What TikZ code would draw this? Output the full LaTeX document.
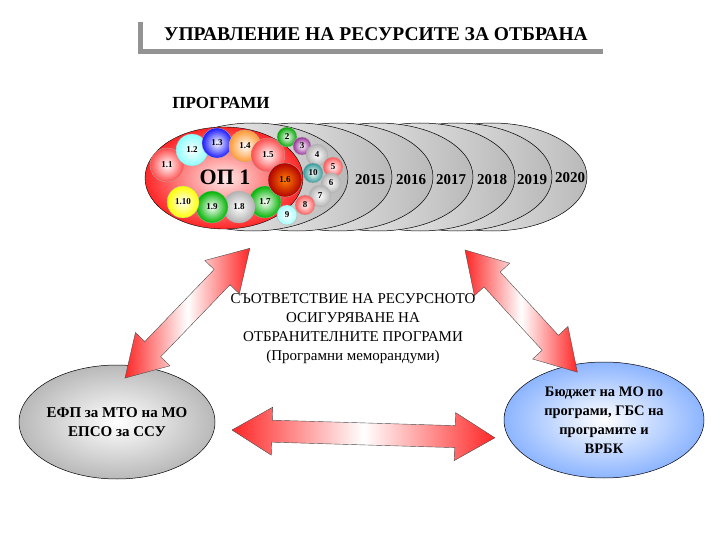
\documentclass[tikz,border=0pt]{standalone}
\usepackage{fontspec}
\setmainfont{Liberation Serif}
\begin{document}
\begin{tikzpicture}[x=1pt,y=1pt,
  ball/.style={circle,inner sep=0pt,draw=gray!60,line width=0.3pt,font=\fontsize{9}{10}\selectfont\bfseries},
  yr/.style={font=\fontsize{15}{17}\selectfont\bfseries},
  gell/.style={draw=black,line width=0.5pt,left color=white,right color=gray!55},
  fat/.style={draw=gray!60!black,line width=0.4pt,left color=red!85,right color=red!85,middle color=white}]
\useasboundingbox (0,0) rectangle (720,-540);
% title
\fill[gray!85] (138,-22) rectangle (143,-54);
\fill[gray!85] (138,-49) rectangle (603,-54);
\node[font=\fontsize{19.5}{22}\selectfont\bfseries] (title) at (376,-34) {УПРАВЛЕНИЕ НА РЕСУРСИТЕ ЗА ОТБРАНА};
\node[font=\fontsize{17}{19}\selectfont\bfseries] (prog) at (221,-103) {ПРОГРАМИ};
% gray ellipses, back to front
\foreach \r in {587,552,515,473,433,392,348}{
  \shade[gell] (\r-95,-177) ellipse [x radius=95,y radius=54];
}
\node[yr] (y15) at (370,-180) {2015};
\node[yr] (y16) at (411,-180) {2016};
\node[yr] (y17) at (451,-180) {2017};
\node[yr] (y18) at (492,-180) {2018};
\node[yr] (y19) at (532,-180) {2019};
\node[yr] (y20) at (570,-178) {2020};
% red ellipse
\shade[draw=black,line width=0.4pt,inner color=red!8,outer color=red!85] (224,-178) ellipse [x radius=79,y radius=51];
\node[font=\fontsize{22}{24}\selectfont\bfseries] (op) at (225,-177) {ОП 1};
% balls
\foreach \n/\x/\y/\r/\c in {1.1/167/165/17/red!70,1.2/192/150/16/cyan!45,1.3/217/143/15/blue!90,1.4/245/146/16/orange!80,1.5/268/155/17/red!70,1.7/265/202/16/green!70!black,1.8/239/207/16/gray!60,1.9/212/207/16/green!70!black,1.10/183/202/16/yellow,2/287/137/10/green!65!black,3/302/146/9/violet!80,4/317/155/11/gray!60,5/333/167/10/red!65,10/313/173/10/teal!80,6/331/183/10/gray!60,7/320/196/11/gray!60,8/305/205/10/red!65,9/287/215/10/cyan!35}{
  \node[ball,inner color=white,outer color=\c,minimum size=2*\r] (b\n) at (\x,-\y) {\n};
}
\node[ball,inner color=orange,outer color=red!70!black,minimum size=34] (b1.6) at (285,-180) {1.6};
% bottom ellipses
\shade[draw=black,line width=0.5pt,inner color=white,outer color=gray!55] (117,-422) ellipse [x radius=98,y radius=57];
\node[font=\fontsize{15}{19}\selectfont\bfseries,align=center] (left) at (117,-422) {ЕФП за МТО на МО\\ЕПСО за ССУ};
\shade[draw=black,line width=0.5pt,inner color=white,outer color=cyan!35!blue!45] (604,-420) ellipse [x radius=100,y radius=58];
\node[font=\fontsize{14.5}{19}\selectfont\bfseries,align=center] (right) at (604,-420) {Бюджет на МО по\\програми, ГБС на\\програмите и\\ВРБК};
% center text
\node[font=\fontsize{15}{19}\selectfont,align=center] (mid) at (353,-329) {СЪОТВЕТСТВИЕ НА РЕСУРСНОТО\\ОСИГУРЯВАНЕ НА\\ОТБРАНИТЕЛНИТЕ ПРОГРАМИ\\(Програмни меморандуми)};
% fat double arrows
\foreach \ax/\ay/\ang/\L in {125/-378/46.1/180, 465/-250/-47.4/166, 232/-430/-1.7/263}{
  \begin{scope}[shift={(\ax,\ay)},rotate=\ang]
    \shade[fat] (0,0) -- (40,-24) -- (40,-11) -- (\L-40,-11) -- (\L-40,-24) -- (\L,0) -- (\L-40,24) -- (\L-40,11) -- (40,11) -- (40,24) -- cycle;
  \end{scope}
}
\end{tikzpicture}
\end{document}
